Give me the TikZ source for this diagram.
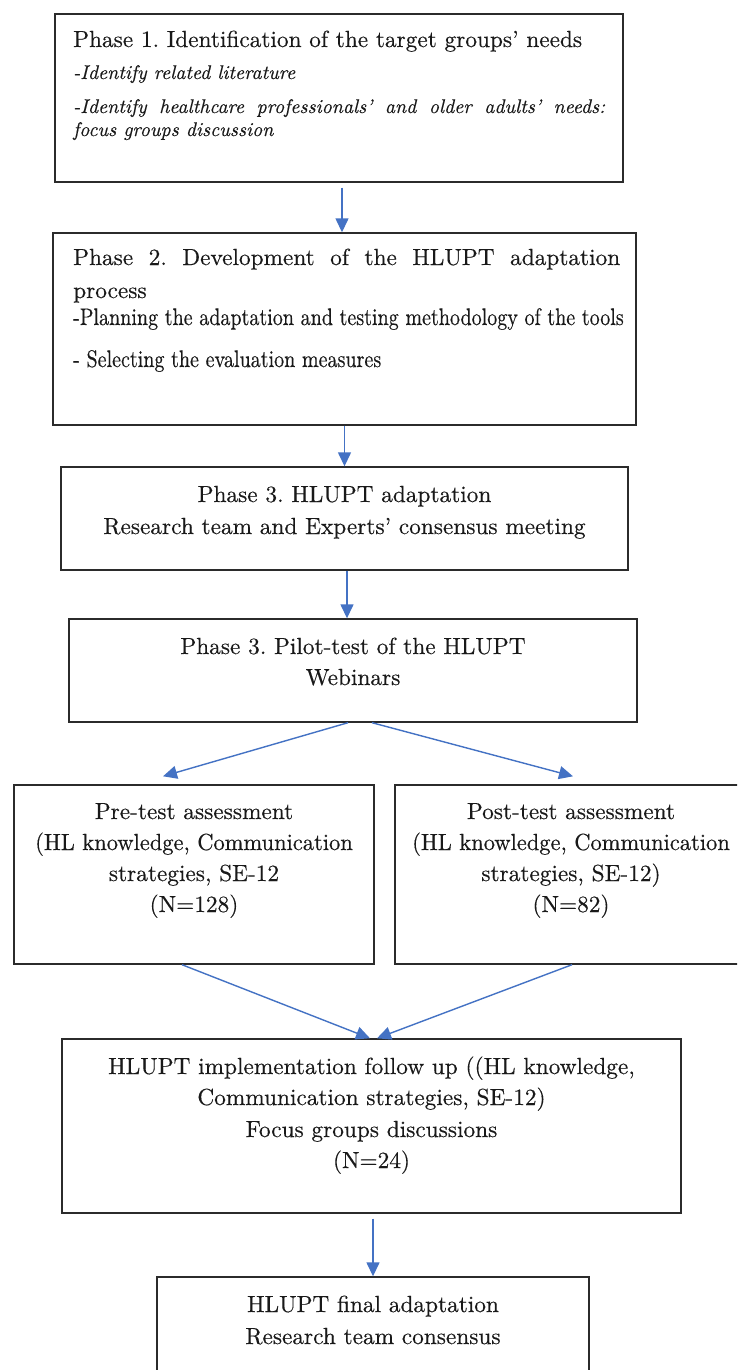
\documentclass[tikz,border=0pt]{standalone}
\usepackage{fontspec}
\setmainfont{lmroman10-regular.otf}[ItalicFont=lmroman10-italic.otf, FakeBold=0.35]
\usetikzlibrary{arrows.meta}
\definecolor{arrowblue}{HTML}{4472C4}
\definecolor{frame}{HTML}{2B2B2B}
\tikzset{
  stage/.style={draw=frame, line width=1.4pt, rectangle, inner sep=0pt},
  flow/.style={draw=arrowblue, line width=1.4pt, -{Triangle[length=14pt,width=13pt]}},
  txt/.style={anchor=base, inner sep=0pt, text=black!90, font=\fontsize{23.3}{28}\selectfont},
  ltxt/.style={txt, anchor=base west},
  itxt/.style={ltxt, font=\fontsize{19.8}{24}\selectfont\itshape},
}
% condensed upright line
\newcommand{\narrowline}[1]{\scalebox{0.835}[1]{\fontsize{24}{28}\selectfont #1}}
% slightly tightened line
\newcommand{\tightline}[1]{\scalebox{0.965}[1]{#1}}
\begin{document}
\frenchspacing
\begin{tikzpicture}[x=1pt,y=-1pt]
\useasboundingbox (0,0) rectangle (737,1370);
\clip (0,0) rectangle (737,1370);
\fill[white] (0,0) rectangle (737,1370);

% stage frames
\node[stage, minimum width=568pt, minimum height=168pt] (p1) at (339,98) {};
\node[stage, minimum width=583pt, minimum height=192pt] (p2) at (344.5,329) {};
\node[stage, minimum width=567pt, minimum height=103pt] (p3) at (344.5,518.5) {};
\node[stage, minimum width=568pt, minimum height=103pt] (p4) at (353,670.5) {};
\node[stage, minimum width=360pt, minimum height=179pt] (pre) at (194,874.5) {};
\node[stage, minimum width=350pt, minimum height=179pt] (post) at (570,874.5) {};
\node[stage, minimum width=619pt, minimum height=174pt] (fol) at (371.5,1126) {};
\node[stage, minimum width=432pt, minimum height=123pt] (fin) at (373,1338.5) {};

% phase 1
\node[ltxt] (p1a) at (73,47) {Phase 1. Identification of the target groups' needs};
\node[itxt] (p1b) at (73,79) {-Identify related literature};
\node[itxt] (p1c) at (73,113) {\makebox[532pt][s]{-Identify healthcare professionals' and older adults' needs:}};
\node[itxt] (p1d) at (73,136) {focus groups discussion};

% phase 2
\node[ltxt] (p2a) at (73,265) {\makebox[547pt][s]{Phase 2. Development of the HLUPT adaptation}};
\node[ltxt] (p2b) at (73,298) {process};
\node[ltxt] (p2c) at (73,325) {\narrowline{-Planning the adaptation and testing methodology of the tools}};
\node[ltxt] (p2d) at (73,367) {\narrowline{- Selecting the evaluation measures}};

% phase 3
\node[txt] (p3a) at (344.5,502) {Phase 3. HLUPT adaptation};
\node[txt] (p3b) at (344.5,534) {Research team and Experts' consensus meeting};

% pilot test
\node[txt] (p4a) at (353,654) {Phase 3. Pilot-test of the HLUPT};
\node[txt] (p4b) at (353,685) {Webinars};

% pre-test
\node[txt] (prea) at (194,819) {Pre-test assessment};
\node[txt] (preb) at (194,850) {\tightline{(HL knowledge, Communication}};
\node[txt] (prec) at (194,881) {strategies, SE-12};
\node[txt] (pred) at (194,912) {(N=128)};

% post-test
\node[txt] (posta) at (571,819) {Post-test assessment};
\node[txt] (postb) at (571,850) {\tightline{(HL knowledge, Communication}};
\node[txt] (postc) at (571,881) {strategies, SE-12)};
\node[txt] (postd) at (571,912) {(N=82)};

% follow up
\node[txt] (fola) at (371.5,1074) {HLUPT implementation follow up ((HL knowledge,};
\node[txt] (folb) at (371.5,1105) {Communication strategies, SE-12)};
\node[txt] (folc) at (371.5,1137) {Focus groups discussions};
\node[txt] (fold) at (371.5,1168) {(N=24)};

% final adaptation
\node[txt] (fina) at (373,1312) {HLUPT final adaptation};
\node[txt] (finb) at (373,1344) {Research team consensus};

% connectors
\draw[flow] ([shift={(3pt,-5pt)}]p1.south) -- ([xshift=-2.5pt]p2.north);
\draw[flow] (p2.south) -- (p3.north);
\draw[flow] ([xshift=2.5pt]p3.south) -- ([xshift=-6pt]p4.north);
\draw[flow] ([xshift=-5pt]p4.south) -- ([shift={(-31pt,8pt)}]pre.north);
\draw[flow] ([xshift=19pt]p4.south) -- ([shift={(3pt,8pt)}]post.north);
\draw[flow] ([xshift=-12pt]pre.south) -- ([xshift=-1.5pt]fol.north);
\draw[flow] ([xshift=2pt]post.south) -- ([xshift=5.5pt]fol.north);
\draw[flow] ([shift={(1.5pt,-5pt)}]fol.south) -- (fin.north);
\end{tikzpicture}
\end{document}
